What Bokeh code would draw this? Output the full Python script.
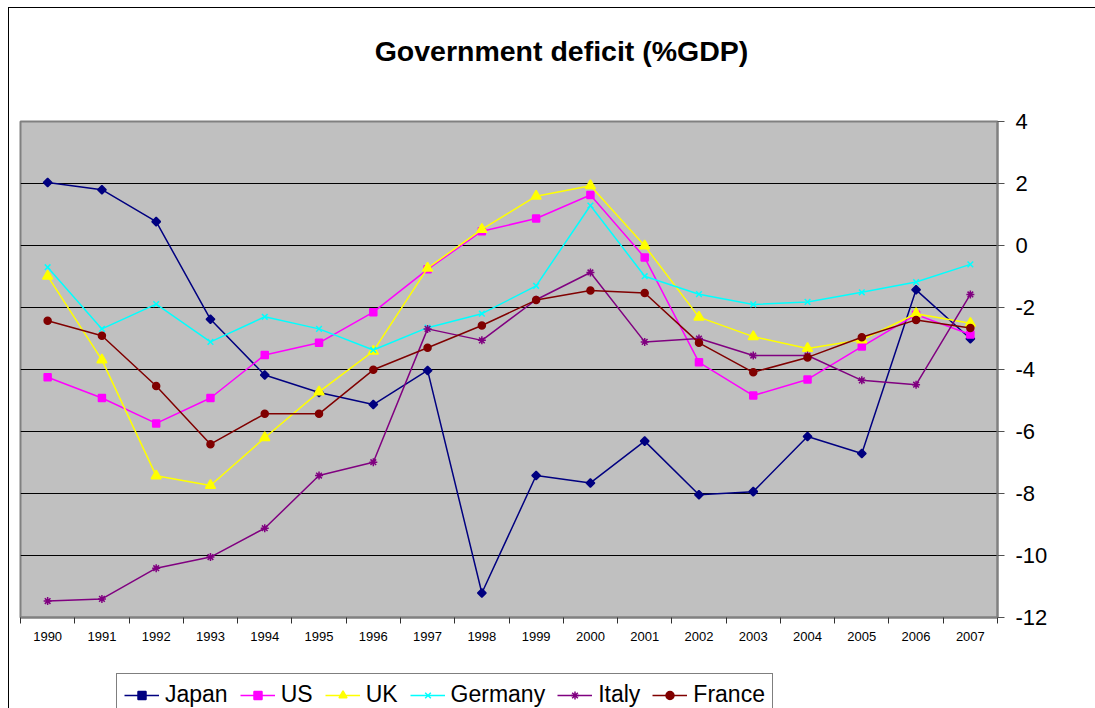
import math
from bokeh.plotting import figure
from bokeh.layouts import column
from bokeh.models import Range1d, FixedTicker, CustomJSTickFormatter, Legend, LegendItem, Label
from bokeh.embed import file_html
from bokeh.resources import INLINE

years = ["1990", "1991", "1992", "1993", "1994", "1995", "1996", "1997", "1998",
         "1999", "2000", "2001", "2002", "2003", "2004", "2005", "2006", "2007"]

japan = [2.03, 1.80, 0.77, -2.38, -4.18, -4.74, -5.13, -4.03, -11.21,
         -7.42, -7.66, -6.31, -8.04, -7.94, -6.16, -6.71, -1.43, -3.01]
us = [-4.25, -4.92, -5.74, -4.92, -3.53, -3.14, -2.15, -0.77, 0.46,
      0.87, 1.63, -0.39, -3.77, -4.84, -4.32, -3.26, -2.23, -2.87]
uk = [-0.99, -3.69, -7.43, -7.74, -6.20, -4.72, -3.41, -0.73, 0.52,
      1.59, 1.93, -0.01, -2.31, -2.94, -3.32, -3.04, -2.20, -2.51]
germany = [-0.70, -2.69, -1.89, -3.11, -2.30, -2.69, -3.37, -2.65, -2.20,
           -1.30, 1.29, -0.99, -1.57, -1.90, -1.82, -1.51, -1.18, -0.61]
italy = [-11.47, -11.40, -10.41, -10.05, -9.12, -7.42, -6.99, -2.69, -3.06,
         -1.75, -0.87, -3.11, -3.00, -3.55, -3.55, -4.35, -4.49, -1.58]
france = [-2.43, -2.91, -4.53, -6.41, -5.43, -5.43, -4.01, -3.30, -2.58,
          -1.76, -1.45, -1.53, -3.14, -4.09, -3.61, -2.96, -2.40, -2.66]

y_ticks = [-12, -10, -8, -6, -4, -2, 0, 2, 4]
title_text = "Government deficit (%GDP)"

FONT = "Liberation Sans"

n = len(years)
xs = [i + 0.5 for i in range(n)]

W = 1086
TH = 90
FRAME_W = 977

# ---- title strip (its frame is aligned with the chart frame by the column) ----
t = figure(width=W, height=TH, output_backend="svg", toolbar_location=None,
           x_range=Range1d(0, FRAME_W), y_range=Range1d(0, TH),
           min_border_left=0, min_border_right=0, min_border_top=0, min_border_bottom=0)
t.axis.visible = False
t.grid.visible = False
t.outline_line_color = None
t.background_fill_color = "white"
t.border_fill_color = "white"
t.add_layout(Label(x=541, y=TH - 42, text=title_text, text_font=FONT,
                   text_font_size="28.5px", text_font_style="bold", text_color="black",
                   text_align="center", text_baseline="middle"))

# ---- main chart ----
p = figure(width=W, height=566, output_backend="svg", toolbar_location=None,
           x_range=Range1d(0, n), y_range=Range1d(-12, 4),
           y_axis_location="right",
           min_border_left=11, min_border_right=W - 11 - FRAME_W,
           min_border_top=23, min_border_bottom=47)

p.background_fill_color = "#C0C0C0"
p.border_fill_color = "white"
p.outline_line_color = "#808080"
p.outline_line_width = 2

xa = p.xaxis[0]
xa.ticker = FixedTicker(ticks=xs, minor_ticks=list(range(n + 1)))
xa.formatter = CustomJSTickFormatter(args=dict(labels=years),
                                     code="return labels[Math.round(tick - 0.5)];")
xa.major_tick_line_color = None
xa.major_tick_out = 0
xa.major_tick_in = 0
xa.minor_tick_line_color = "#303030"
xa.minor_tick_out = 6
xa.minor_tick_in = 0
xa.axis_line_color = "#808080"
xa.axis_line_width = 2
xa.major_label_text_font = FONT
xa.major_label_text_font_size = "13px"
xa.major_label_text_color = "black"
xa.major_label_standoff = 8

ya = p.yaxis[0]
ya.ticker = FixedTicker(ticks=y_ticks)
ya.formatter = CustomJSTickFormatter(code="return tick.toFixed(0);")
ya.minor_tick_line_color = None
ya.major_tick_line_color = "#505050"
ya.major_tick_out = 7
ya.major_tick_in = 0
ya.axis_line_color = "#808080"
ya.axis_line_width = 2
ya.major_label_text_font = FONT
ya.major_label_text_font_size = "22px"
ya.major_label_text_color = "black"
ya.major_label_standoff = 11

p.xgrid.visible = False
p.ygrid.ticker = FixedTicker(ticks=y_ticks)
p.ygrid.grid_line_color = "black"
p.ygrid.grid_line_width = 1

series = [
    ("Japan", japan, "#000080", "square", 6, math.pi / 4),
    ("US", us, "#FF00FF", "square", 7, 0),
    ("UK", uk, "#FFFF00", "triangle", 10, 0),
    ("Germany", germany, "#00FFFF", "x", 8, 0),
    ("Italy", italy, "#800080", "asterisk", 8, 0),
    ("France", france, "#800000", "circle", 7, 0),
]

# ---- legend strip ----
q = figure(width=W, height=44, output_backend="svg", toolbar_location=None,
           x_range=Range1d(0, n), y_range=Range1d(100, 101),
           min_border_left=0, min_border_right=0, min_border_top=0, min_border_bottom=0)
q.axis.visible = False
q.grid.visible = False
q.outline_line_color = None
q.background_fill_color = "white"
q.border_fill_color = "white"

items = []
for name, vals, color, marker, size, ang in series:
    p.line(xs, vals, line_color=color, line_width=1.5)
    p.scatter(xs, vals, marker=marker, size=size, angle=ang, line_color=color,
              fill_color=color, line_width=1.5)
    l1 = q.line(xs, vals, line_color=color, line_width=1.5)
    l2 = q.scatter(xs, vals, marker=marker, size=max(size - 2, 5), angle=ang,
                   line_color=color, fill_color=color, line_width=1.5)
    items.append(LegendItem(label=name, renderers=[l1, l2]))

lg = Legend(items=items, orientation="horizontal", location=(96, -8))
lg.label_text_font = FONT
lg.label_text_font_size = "23px"
lg.label_text_color = "black"
lg.glyph_width = 35
lg.glyph_height = 20
lg.label_standoff = 6
lg.spacing = 12
lg.padding = 7
lg.margin = 0
lg.border_line_color = "black"
lg.border_line_width = 1
lg.background_fill_color = "white"
lg.background_fill_alpha = 1.0
q.add_layout(lg, "center")

layout = column(t, p, q, spacing=0)
layout.styles = {"margin-left": "8px", "margin-top": "7px",
                 "border-left": "1px solid black", "border-top": "1px solid black"}

open("out.html", "w").write(file_html(layout, INLINE))
